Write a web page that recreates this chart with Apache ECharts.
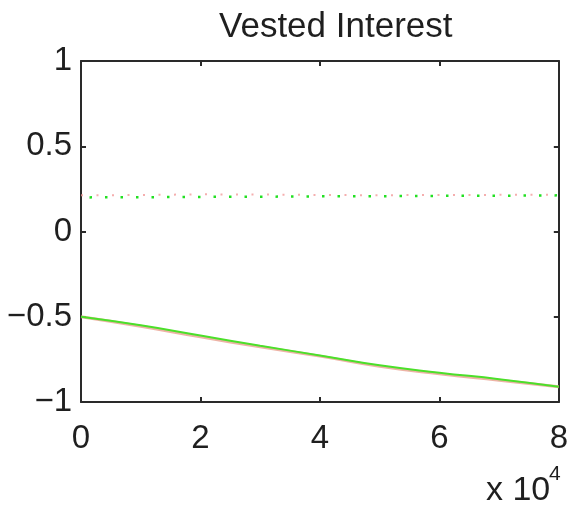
<!DOCTYPE html>
<html>
<head>
<meta charset="utf-8">
<script src="https://cdn.jsdelivr.net/npm/echarts@6/dist/echarts.min.js"></script>
<style>
  html, body { margin: 0; padding: 0; background: #fff; }
  #chart { width: 571px; height: 506px; }
</style>
</head>
<body>
<div id="chart"></div>
<script>
// x positions in units of 10^4
const xValues = [0, 1, 2, 3, 4, 5, 6, 7, 8];

// dotted traces near 0.2
const greenDotted = [0.200, 0.201, 0.203, 0.204, 0.206, 0.207, 0.209, 0.210, 0.212];
const redDotted   = [0.212, 0.214, 0.218, 0.217, 0.214, 0.213, 0.214, 0.215, 0.216];

// solid traces falling from -0.5
const greenSolid = [-0.500, -0.550, -0.610, -0.670, -0.727, -0.785, -0.828, -0.866, -0.910];
const redSolid   = [-0.500, -0.556, -0.618, -0.676, -0.731, -0.791, -0.835, -0.872, -0.910];

const xTicks = [0, 2, 4, 6, 8];
const yTicks = [-1, -0.5, 0, 0.5, 1];

const pairs = (ys) => xValues.map((x, i) => [x, ys[i]]);
const fmtY = (v) => (v < 0 ? '\u2212' + Math.abs(v) : String(v));

const font = '"Liberation Sans", Arial, sans-serif';
const ink = '#1f1f1f';

const chart = echarts.init(document.getElementById('chart'), null, { renderer: 'canvas' });

const frameAxis = () => ({
  type: 'value',
  axisLine: { show: true, onZero: false, lineStyle: { color: '#2a2a2a', width: 2 } },
  axisTick: { show: true, inside: true, length: 5, lineStyle: { color: '#2a2a2a', width: 2 } },
  splitLine: { show: false }
});

chart.setOption({
  animation: false,
  backgroundColor: '#ffffff',
  title: {
    text: 'Vested Interest',
    left: 214,
    top: 5,
    textStyle: { fontFamily: font, fontSize: 35, fontWeight: 'normal', color: ink }
  },
  grid: { left: 81, right: 8, top: 61, bottom: 104, containLabel: false },
  xAxis: [
    Object.assign(frameAxis(), {
      position: 'bottom',
      min: xTicks[0], max: xTicks[xTicks.length - 1], interval: 2,
      axisLabel: { fontFamily: font, fontSize: 33, color: ink, margin: 20 }
    }),
    Object.assign(frameAxis(), {
      position: 'top',
      min: xTicks[0], max: xTicks[xTicks.length - 1], interval: 2,
      axisLabel: { show: false }
    })
  ],
  yAxis: [
    Object.assign(frameAxis(), {
      position: 'left',
      min: yTicks[0], max: yTicks[yTicks.length - 1], interval: 0.5,
      axisLabel: { fontFamily: font, fontSize: 33, color: ink, margin: 9, formatter: fmtY }
    }),
    Object.assign(frameAxis(), {
      position: 'right',
      min: yTicks[0], max: yTicks[yTicks.length - 1], interval: 0.5,
      axisLabel: { show: false }
    })
  ],
  graphic: [
    {
      type: 'text',
      left: 486,
      top: 474,
      style: {
        text: 'x 10',
        font: '34px ' + font,
        fill: ink
      }
    },
    {
      type: 'text',
      left: 549,
      top: 464,
      style: {
        text: '4',
        font: '21px ' + font,
        fill: ink
      }
    }
  ],
  series: [
    {
      type: 'line', name: 'red dotted', data: pairs(redDotted),
      showSymbol: false, smooth: false, z: 2,
      lineStyle: { color: '#f39a9a', width: 2, type: [2, 13.5], opacity: 0.8 }
    },
    {
      type: 'line', name: 'green dotted', data: pairs(greenDotted),
      showSymbol: false, smooth: false, z: 3,
      lineStyle: { color: '#22e022', width: 2.5, type: [2.5, 13], dashOffset: 7 }
    },
    {
      type: 'line', name: 'red solid', data: pairs(redSolid),
      showSymbol: false, smooth: true, z: 2,
      lineStyle: { color: '#e8a090', width: 3, opacity: 0.8 }
    },
    {
      type: 'line', name: 'green solid', data: pairs(greenSolid),
      showSymbol: false, smooth: true, z: 3,
      lineStyle: { color: '#4be02a', width: 2 }
    }
  ]
});
</script>
</body>
</html>
